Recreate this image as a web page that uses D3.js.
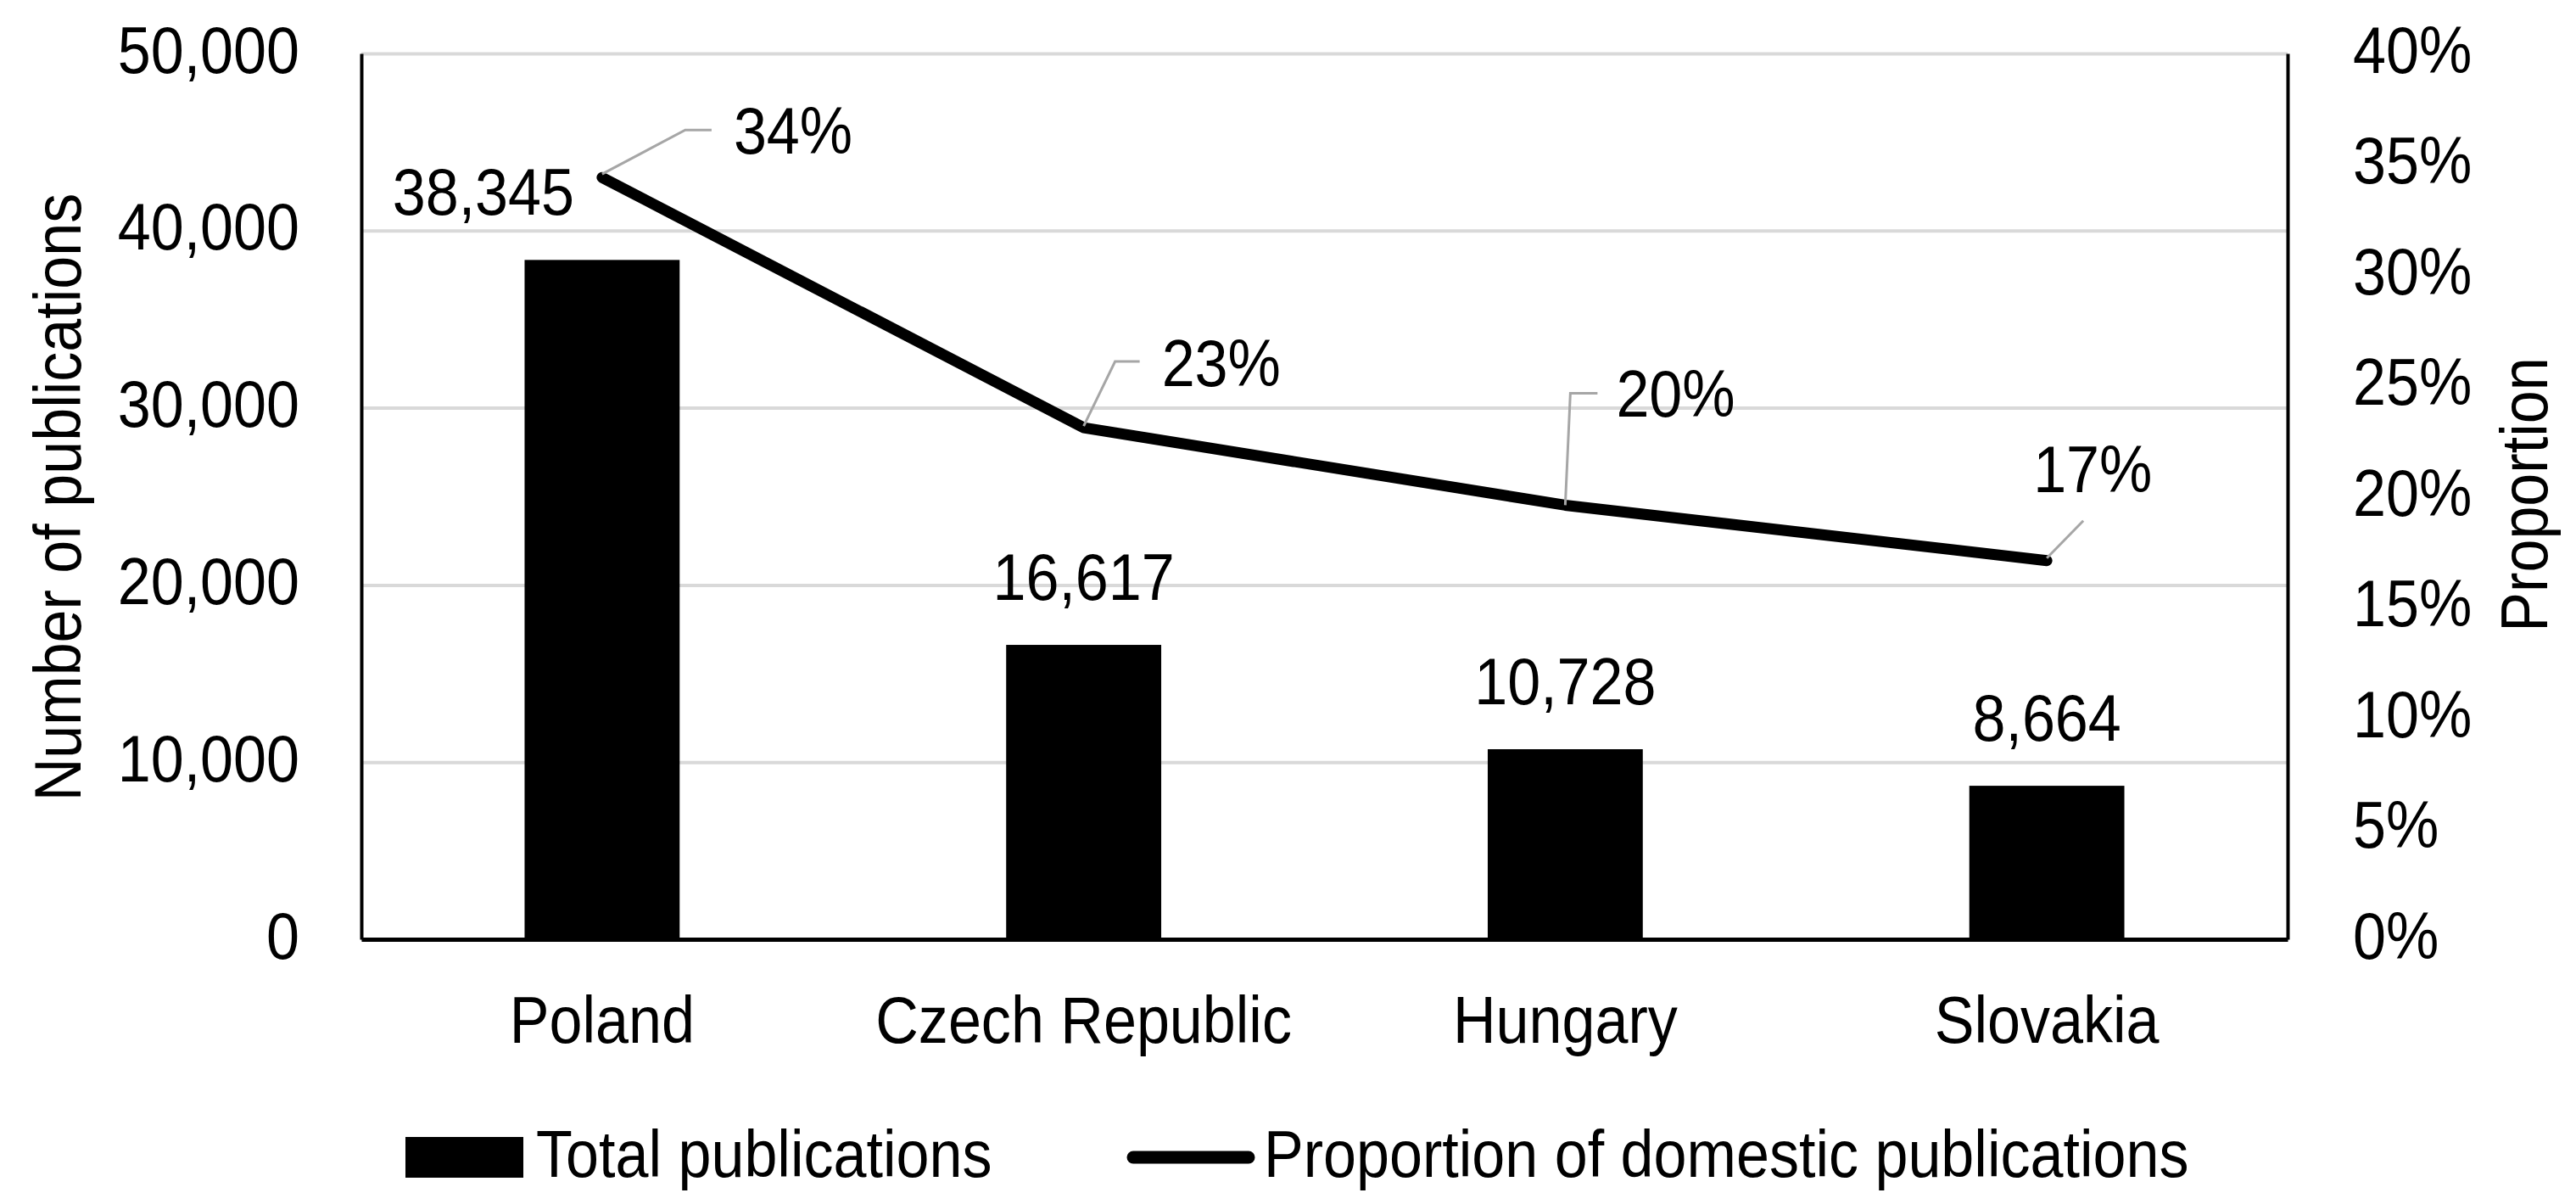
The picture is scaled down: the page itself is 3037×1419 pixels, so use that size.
<!DOCTYPE html>
<html>
<head>
<meta charset="utf-8">
<script src="https://cdn.jsdelivr.net/npm/d3@7"></script>
<style>
  body { margin: 0; background: #fff; }
  text { font-family: "Liberation Sans", Arial, sans-serif; fill: #000; }
</style>
</head>
<body>
<div id="chart"></div>
<script>
// data
var countries = ["Poland", "Czech Republic", "Hungary", "Slovakia"];
var totalPubs = [38345, 16617, 10728, 8664];
var domesticShare = [0.344, 0.231, 0.196, 0.171];
var leftTicks = [0, 10000, 20000, 30000, 40000, 50000];
var rightTicks = [0, 0.05, 0.10, 0.15, 0.20, 0.25, 0.30, 0.35, 0.40];

var svgWidth = 3037;
var svgHeight = 1419;
var margin = { top: 63, right: 340, bottom: 312, left: 426 };
var width = svgWidth - margin.left - margin.right;
var height = svgHeight - margin.top - margin.bottom;

var fontSize = 77;
var squeeze = 0.91;

// label placement (layout only)
var barLabelDx = [-140, 0, 0, 0];
var pctLeader = [
  [[0, -4], [98, -56], [129, -56]],
  [[0, -2], [37, -78], [66, -78]],
  [[0, 0], [6, -132], [38, -132]],
  [[0, -3], [43, -47]]
];
var pctText = [[155, -28], [92, -49], [60, -104], [-16, -81]];

var svg = d3.select("#chart")
  .append("svg")
  .attr("width", svgWidth)
  .attr("height", svgHeight);

var chartGroup = svg.append("g")
  .attr("transform", `translate(${margin.left}, ${margin.top})`);

var x = d3.scaleBand()
  .domain(countries)
  .range([0, width])
  .paddingInner(0.678)
  .paddingOuter(0.339);

var yLeft = d3.scaleLinear().domain([0, 50000]).range([height, 0]);
var yRight = d3.scaleLinear().domain([0, 0.4]).range([height, 0]);

function addText(g, str, tx, ty, anchor, rot) {
  var t = `translate(${tx}, ${ty})` + (rot ? ` rotate(${rot})` : "") + ` scale(${squeeze}, 1)`;
  return g.append("text")
    .attr("transform", t)
    .attr("text-anchor", anchor || "start")
    .attr("font-size", fontSize)
    .text(str);
}

// gridlines
chartGroup.append("g")
  .call(d3.axisLeft(yLeft).tickValues(leftTicks).tickSize(-width).tickFormat(""))
  .call(g => g.select(".domain").remove())
  .call(g => g.selectAll("line").attr("stroke", "#d9d9d9").attr("stroke-width", 4));

// bars
chartGroup.selectAll(".bar")
  .data(countries)
  .enter()
  .append("rect")
  .attr("class", "bar")
  .attr("x", d => x(d))
  .attr("y", (d, i) => yLeft(totalPubs[i]))
  .attr("width", x.bandwidth())
  .attr("height", (d, i) => height - yLeft(totalPubs[i]))
  .attr("fill", "#000");

// left axis
var leftAxis = chartGroup.append("g")
  .call(d3.axisLeft(yLeft).tickValues(leftTicks).tickSize(0).tickFormat(d3.format(",")));
leftAxis.select(".domain").attr("stroke", "#000").attr("stroke-width", 4);
leftAxis.selectAll("text")
  .attr("font-size", fontSize)
  .attr("x", -73 / squeeze)
  .attr("dy", 22)
  .attr("transform", `scale(${squeeze}, 1)`);

// right axis
var rightAxis = chartGroup.append("g")
  .attr("transform", `translate(${width}, 0)`)
  .call(d3.axisRight(yRight).tickValues(rightTicks).tickSize(0).tickFormat(d3.format(".0%")));
rightAxis.select(".domain").attr("stroke", "#000").attr("stroke-width", 4);
rightAxis.selectAll("text")
  .attr("font-size", fontSize)
  .attr("x", 77 / squeeze)
  .attr("dy", 22)
  .attr("transform", `scale(${squeeze}, 1)`);

// bottom axis
var bottomAxis = chartGroup.append("g")
  .attr("transform", `translate(0, ${height})`)
  .call(d3.axisBottom(x).tickSize(0));
bottomAxis.select(".domain").attr("stroke", "#000").attr("stroke-width", 5);
bottomAxis.selectAll(".tick text")
  .attr("font-size", fontSize)
  .attr("y", 122)
  .attr("dy", 0)
  .attr("transform", `scale(${squeeze}, 1)`);
bottomAxis.selectAll(".tick").each(function () {
  // keep the band centre after squeezing
  var tr = d3.select(this).attr("transform");
  var cx = +tr.match(/translate\(([-\d.]+)/)[1];
  d3.select(this).attr("transform", `translate(${cx}, 0)`);
});

// bar value labels
countries.forEach(function (c, i) {
  addText(chartGroup, d3.format(",")(totalPubs[i]),
    x(c) + x.bandwidth() / 2 + barLabelDx[i], yLeft(totalPubs[i]) - 53, "middle");
});

// proportion line
var line = d3.line()
  .x((d, i) => x(countries[i]) + x.bandwidth() / 2)
  .y(d => yRight(d));

chartGroup.append("path")
  .datum(domesticShare)
  .attr("d", line)
  .attr("fill", "none")
  .attr("stroke", "#000")
  .attr("stroke-width", 13)
  .attr("stroke-linejoin", "round")
  .attr("stroke-linecap", "round");

// proportion labels with leader lines
domesticShare.forEach(function (v, i) {
  var px = x(countries[i]) + x.bandwidth() / 2;
  var py = yRight(v);
  chartGroup.append("polyline")
    .attr("points", pctLeader[i].map(p => (px + p[0]) + "," + (py + p[1])).join(" "))
    .attr("fill", "none")
    .attr("stroke", "#a6a6a6")
    .attr("stroke-width", 3);
  addText(chartGroup, d3.format(".0%")(v), px + pctText[i][0], py + pctText[i][1], "start");
});

// axis titles
addText(svg, "Number of publications", 95, 586, "middle", -90);
addText(svg, "Proportion", 3003, 583, "middle", -90);

// legend
var legend = svg.append("g");
legend.append("rect")
  .attr("x", 478).attr("y", 1340)
  .attr("width", 139).attr("height", 48)
  .attr("fill", "#000");
addText(legend, "Total publications", 632, 1387, "start");
legend.append("line")
  .attr("x1", 1336).attr("x2", 1472)
  .attr("y1", 1364).attr("y2", 1364)
  .attr("stroke", "#000")
  .attr("stroke-width", 15)
  .attr("stroke-linecap", "round");
addText(legend, "Proportion of domestic publications", 1490, 1387, "start");
</script>
</body>
</html>
